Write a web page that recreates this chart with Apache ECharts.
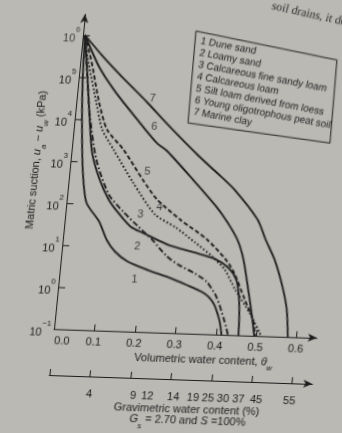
<!DOCTYPE html>
<html>
<head>
<meta charset="utf-8">
<script src="https://cdn.jsdelivr.net/npm/echarts@6/dist/echarts.min.js"></script>
<style>
  html, body { margin: 0; padding: 0; width: 342px; height: 433px; overflow: hidden; background: #bab9b4; }
  /* the printed page sits slightly tilted: the drawing is sheared about the axis origin */
  #page { position: absolute; left: 0; top: -30px; width: 372px; height: 480px;
          transform-origin: 54px 359px; transform: matrix(1, 0.034, -0.0986, 1, 0, 0); }
</style>
</head>
<body>
<div id="page"></div>
<script>
// Volumetric water content ticks and suction decades (log10 kPa)
const thetaTicks = [0, 0.1, 0.2, 0.3, 0.4, 0.5, 0.6];
const suctionDecades = [-1, 0, 1, 2, 3, 4, 5, 6];

// Gravimetric water content (%) labels and where they sit on the theta scale
const gravLabels = [4, 9, 12, 14, 19, 25, 30, 37, 45, 55];
const gravLabelTheta = [0.102, 0.211, 0.246, 0.31, 0.359, 0.396, 0.433, 0.471, 0.515, 0.597];

// Soil-water characteristic curves: theta_w and log10 of matric suction (kPa)
const thetaDuneSand = [0.005, 0.010, 0.018, 0.032, 0.049, 0.085, 0.108, 0.132, 0.165, 0.215, 0.266, 0.314, 0.359, 0.386, 0.405, 0.414];
const logSDuneSand  = [6.0, 4.95, 4.0, 2.81, 2.03, 1.59, 1.16, 0.88, 0.66, 0.48, 0.33, 0.16, -0.02, -0.25, -0.65, -1];

const thetaLoamySand = [0.005, 0.022, 0.037, 0.051, 0.074, 0.103, 0.13, 0.164, 0.199, 0.258, 0.327, 0.378, 0.414, 0.437, 0.447, 0.453, 0.456];
const logSLoamySand  = [6.0, 4.96, 4.0, 3.22, 2.63, 2.12, 1.81, 1.49, 1.34, 1.10, 0.93, 0.80, 0.60, 0.32, -0.04, -0.51, -1];

const thetaFineSandyLoam = [0.005, 0.017, 0.035, 0.063, 0.102, 0.142, 0.18, 0.22, 0.261, 0.294, 0.334, 0.364, 0.392, 0.417, 0.43];
const logSFineSandyLoam  = [6.0, 5.26, 4.17, 3.06, 2.24, 1.84, 1.52, 1.2, 0.81, 0.61, 0.43, 0.25, -0.1, -0.65, -1];

const thetaCalcLoam = [0.005, 0.018, 0.049, 0.07, 0.103, 0.159, 0.221, 0.275, 0.326, 0.372, 0.406, 0.437, 0.478, 0.512];
const logSCalcLoam  = [6.0, 5.43, 4.42, 3.78, 3.31, 2.54, 1.80, 1.51, 1.17, 0.85, 0.55, 0.08, -0.46, -1];

const thetaSiltLoam = [0.005, 0.028, 0.056, 0.082, 0.127, 0.182, 0.222, 0.284, 0.355, 0.406, 0.43, 0.463, 0.488, 0.497];
const logSSiltLoam  = [6.0, 5.36, 4.42, 3.78, 3.32, 2.62, 2.16, 1.70, 1.25, 0.79, 0.48, -0.15, -0.62, -1];

const thetaPeat = [0.005, 0.048, 0.0945, 0.156, 0.209, 0.236, 0.306, 0.37, 0.40, 0.43, 0.45, 0.469, 0.484, 0.495];
const logSPeat  = [6.0, 5.25, 4.67, 4.02, 3.49, 3.31, 2.66, 2.04, 1.69, 1.27, 0.80, 0.09, -0.51, -1];

const thetaMarineClay = [0.005, 0.053, 0.105, 0.176, 0.23, 0.315, 0.366, 0.41, 0.475, 0.5, 0.527, 0.553, 0.569, 0.578];
const logSMarineClay  = [6.0, 5.52, 5.05, 4.44, 3.95, 3.22, 2.82, 2.46, 1.76, 1.29, 0.82, 0.18, -0.36, -1];

// Curve numbers placed beside each curve
const tagText  = ['1', '2', '3', '4', '5', '6', '7'];
const tagTheta = [0.186, 0.185, 0.185, 0.23, 0.192, 0.198, 0.187];
const tagLogS  = [0.23, 1.02, 1.79, 1.97, 2.82, 3.89, 4.54];

const soilNames = [
  '1 Dune sand',
  '2 Loamy sand',
  '3 Calcareous fine sandy loam',
  '4 Calcareous loam',
  '5 Silt loam derived from loess',
  '6 Young oligotrophous peat soil',
  '7 Marine clay'
];

const INK = '#1b1b1b';
const FONT = '"Liberation Sans", Arial, sans-serif';
const Y_MIN = -1;
const Y_ARROW = 6.5;   // where the suction axis line ends in its arrow
const Y_MAX = 7;       // scale headroom above the arrow
const TOP_DECADE = suctionDecades[suctionDecades.length - 1];

const supRich = {
  b: { fontSize: 11, fontFamily: FONT, color: INK, lineHeight: 18, verticalAlign: 'bottom' },
  s: { fontSize: 8, fontFamily: FONT, color: INK, lineHeight: 10, verticalAlign: 'top' }
};
const decadeLabel = v => '{b|10}{s|' + (v < 0 ? '−' + (-v) : String(v)) + '}';

const curves = [
  { theta: thetaDuneSand,      logS: logSDuneSand,      dash: 'solid' },
  { theta: thetaLoamySand,     logS: logSLoamySand,     dash: 'solid' },
  { theta: thetaFineSandyLoam, logS: logSFineSandyLoam, dash: [6, 2.5, 1.6, 2.5] },
  { theta: thetaCalcLoam,      logS: logSCalcLoam,      dash: [1.7, 2.2] },
  { theta: thetaSiltLoam,      logS: logSSiltLoam,      dash: [4.5, 2.5] },
  { theta: thetaPeat,          logS: logSPeat,          dash: 'solid' },
  { theta: thetaMarineClay,    logS: logSMarineClay,    dash: 'solid' }
];

const curveSeries = curves.map(c => ({
  type: 'line',
  xAxisIndex: 0,
  yAxisIndex: 0,
  smooth: 0.25,
  showSymbol: false,
  silent: true,
  lineStyle: { color: INK, width: 1.8, type: c.dash },
  data: c.theta.map((t, i) => [t, c.logS[i]])
}));

// suction axis line with its arrow head
curveSeries[0].markLine = {
  silent: true,
  symbol: ['none', 'arrow'],
  symbolSize: [6, 9],
  label: { show: false },
  lineStyle: { color: INK, width: 1, type: 'solid' },
  data: [[{ coord: [0, Y_MIN] }, { coord: [0, Y_ARROW] }]]
};

const tagSeries = {
  type: 'scatter',
  xAxisIndex: 0,
  yAxisIndex: 0,
  symbolSize: 0,
  silent: true,
  label: {
    show: true, position: 'inside', color: INK, fontSize: 11, fontFamily: FONT,
    formatter: p => p.data[2]
  },
  data: tagText.map((t, i) => [tagTheta[i], tagLogS[i], t])
};

// label of the uppermost decade, set against the axis at theta = 0
const topDecadeSeries = {
  type: 'scatter',
  xAxisIndex: 0,
  yAxisIndex: 0,
  symbolSize: 0,
  silent: true,
  label: { show: true, position: 'left', distance: 3, formatter: () => decadeLabel(TOP_DECADE), rich: supRich },
  data: [[0, TOP_DECADE]]
};

// legend box corners (page coordinates)
const legendBox = [[166.2, 57.2], [309.6, 81.3], [310.8, 164.3], [167.3, 149.1]];

const subRich = {
  n: { fontSize: 11, fontFamily: FONT, fill: INK, lineHeight: 16, verticalAlign: 'top' },
  i: { fontSize: 11, fontFamily: FONT, fontStyle: 'italic', fill: INK, lineHeight: 16, verticalAlign: 'top' },
  s: { fontSize: 8, fontFamily: FONT, fontStyle: 'italic', fill: INK, lineHeight: 12, verticalAlign: 'bottom', padding: [5, 0, 0, 0] }
};

const graphics = [
  { type: 'polygon', shape: { points: legendBox }, style: { fill: 'none', stroke: INK, lineWidth: 1 }, silent: true },
  ...soilNames.map((name, i) => ({
    type: 'text', x: 172, y: 67 + i * 11.8, rotation: -0.15, silent: true,
    style: { text: name, font: '10px ' + FONT, fill: INK, textAlign: 'left', textVerticalAlign: 'middle' }
  })),
  {
    type: 'text', x: 206, y: 387, silent: true,
    style: { text: '{n|Volumetric water content, }{i|θ}{s|w}', textAlign: 'center', textVerticalAlign: 'middle', rich: subRich }
  },
  {
    type: 'text', x: 194, y: 434.5, silent: true,
    style: { text: 'Gravimetric water content (%)', font: '11px ' + FONT, fill: INK, textAlign: 'center', textVerticalAlign: 'middle' }
  },
  {
    type: 'text', x: 196, y: 448.5, silent: true,
    style: { text: '{i|G}{s|s}{n| = 2.70 and }{i|S}{n| =100%}', textAlign: 'center', textVerticalAlign: 'middle', rich: subRich }
  },
  {
    type: 'text', x: 22, y: 191, rotation: Math.PI / 2, silent: true,
    style: { text: '{n|Matric suction, }{i|u}{s|a}{n| − }{i|u}{s|w}{n| (kPa)}', textAlign: 'center', textVerticalAlign: 'middle', rich: subRich }
  },
  {
    type: 'text', x: 239.5, y: 29.6, rotation: -0.18, silent: true,
    style: { text: 'soil drains, it does', font: '12px "Liberation Serif", serif', fill: '#2a2a2a', textAlign: 'left', textVerticalAlign: 'middle' }
  }
];

const chart = echarts.init(document.getElementById('page'), null, { renderer: 'canvas' });

chart.setOption({
  animation: false,
  backgroundColor: 'transparent',
  grid: { left: 54, top: 23, width: 262.9, height: 336 },
  xAxis: [
    {
      type: 'value', min: 0, max: 0.65, interval: 0.1,
      axisLine: { show: true, onZero: false, lineStyle: { color: INK, width: 1 }, symbol: ['none', 'arrow'], symbolSize: [6, 9] },
      axisTick: { show: true, inside: true, length: 6, customValues: thetaTicks, lineStyle: { color: INK } },
      axisLabel: {
        customValues: thetaTicks, margin: 6, color: INK, fontSize: 11, fontFamily: FONT,
        formatter: v => (v === 0 ? '{z|0.0}' : v.toFixed(1)),
        rich: { z: { fontSize: 11, fontFamily: FONT, color: INK, padding: [0, 0, 0, 18] } }
      },
      splitLine: { show: false }
    },
    {
      type: 'value', min: 0, max: 0.65, interval: 0.1, position: 'bottom', offset: 46,
      axisLine: { show: true, onZero: false, lineStyle: { color: INK, width: 1 }, symbol: ['none', 'arrow'], symbolSize: [6, 9] },
      axisTick: { show: true, inside: true, length: 6, customValues: thetaTicks, lineStyle: { color: INK } },
      axisLabel: {
        customValues: gravLabelTheta, margin: 12, color: INK, fontSize: 11, fontFamily: FONT,
        formatter: v => {
          let k = 0;
          gravLabelTheta.forEach((t, i) => { if (Math.abs(t - v) < Math.abs(gravLabelTheta[k] - v)) k = i; });
          return String(gravLabels[k]);
        }
      },
      splitLine: { show: false }
    }
  ],
  yAxis: {
    type: 'value', min: Y_MIN, max: Y_MAX, interval: 1,
    axisLine: { show: false, onZero: false },
    axisTick: { show: true, inside: true, length: 7, customValues: suctionDecades, lineStyle: { color: INK } },
    axisLabel: {
      customValues: suctionDecades.filter(v => v < TOP_DECADE), margin: 3,
      formatter: decadeLabel,
      rich: supRich
    },
    splitLine: { show: false }
  },
  graphic: { elements: graphics },
  series: [...curveSeries, tagSeries, topDecadeSeries]
});
</script>
</body>
</html>
